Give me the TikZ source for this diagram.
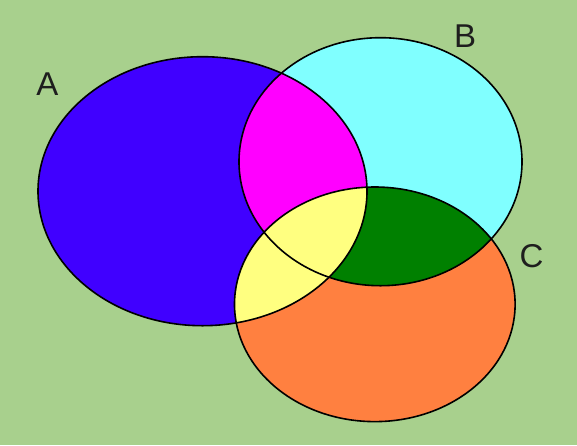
\documentclass[tikz,border=0pt]{standalone}
\usepackage{fontspec}
\setmainfont{Liberation Sans}
\definecolor{bg}{HTML}{A8D08D}
\definecolor{ablue}{HTML}{4000FF}
\definecolor{bcyan}{HTML}{80FFFF}
\definecolor{corange}{HTML}{FF8040}
\definecolor{abmag}{HTML}{FF00FF}
\definecolor{acyel}{HTML}{FFFF80}
\definecolor{bcgreen}{HTML}{008000}
\definecolor{lbl}{HTML}{1E1E1E}
\begin{document}
\begin{tikzpicture}[x=1pt,y=-1pt,
  outline/.style={draw=black,line width=1.6pt},
  setlabel/.style={font=\fontsize{33}{33}\selectfont,text=lbl,inner sep=0pt}]
\def\ellA{(202.5,191.2) ellipse [x radius=164.5, y radius=134.5]}
\def\ellB{(380.5,161.7) ellipse [x radius=141.5, y radius=124]}
\def\ellC{(374.8,304.3) ellipse [x radius=140.3, y radius=117.3]}
\fill[bg] (0,0) rectangle (577,445);
\useasboundingbox (0,0) rectangle (577,445);
% single-set fills
\fill[ablue] \ellA;
\fill[bcyan] \ellB;
\fill[corange] \ellC;
% intersections with B
\begin{scope}
  \clip \ellB;
  \fill[abmag] \ellA;
  \fill[bcgreen] \ellC;
\end{scope}
% intersection A and C
\begin{scope}
  \clip \ellA;
  \fill[acyel] \ellC;
\end{scope}
% outlines
\draw[outline] \ellA;
\draw[outline] \ellB;
\draw[outline] \ellC;
% labels
\node[setlabel] (labA) at (47.5,84) {A};
\node[setlabel] (labB) at (465,36) {B};
\node[setlabel] (labC) at (531.5,256) {C};
\end{tikzpicture}
\end{document}
